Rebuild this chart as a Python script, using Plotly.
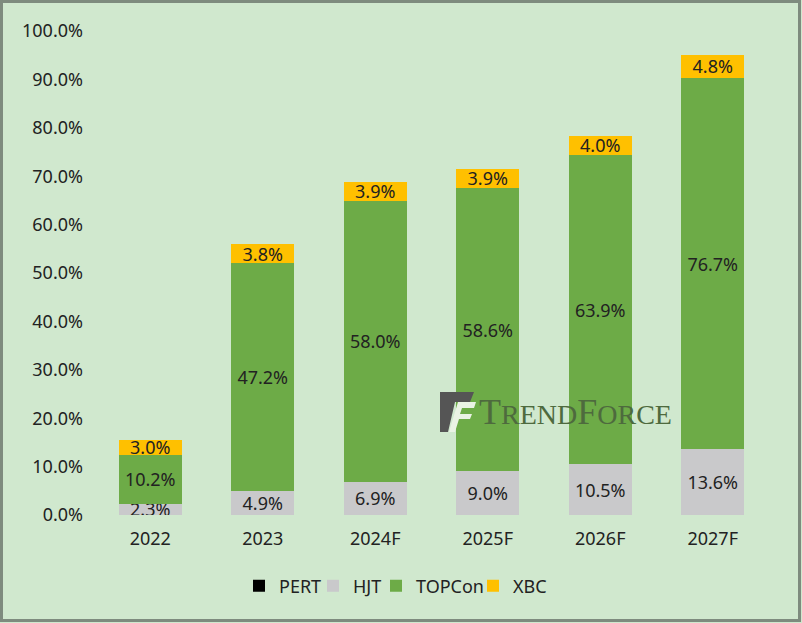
import plotly.graph_objects as go

years = ["2022", "2023", "2024F", "2025F", "2026F", "2027F"]
pert = [0.0, 0.0, 0.0, 0.0, 0.0, 0.0]
hjt = [2.3, 4.9, 6.9, 9.0, 10.5, 13.6]
topcon = [10.2, 47.2, 58.0, 58.6, 63.9, 76.7]
xbc = [3.0, 3.8, 3.9, 3.9, 4.0, 4.8]
y_ticks = [0, 10, 20, 30, 40, 50, 60, 70, 80, 90, 100]

W, H = 802, 623
L, R, T, B = 94, 33, 31, 108
PW, PH = W - L - R, H - T - B

FONT = "Noto Sans"
TXT = "#222222"
FS = 18


def px(x):
    return (x - L) / PW


def py(y):
    return (H - B - y) / PH


fig = go.Figure()

# legend left edges (pixels) for each series
legend_left = [239, 313, 376, 473]
series = [
    ("PERT", pert, "#000000", False),
    ("HJT", hjt, "#C9C9CB", True),
    ("TOPCon", topcon, "#6DAB47", True),
    ("XBC", xbc, "#FFC000", True),
]

legends = {}
for i, (name, vals, color, show_text) in enumerate(series):
    lg = "legend" if i == 0 else f"legend{i + 1}"
    fig.add_trace(go.Bar(
        name=name, x=years, y=vals, marker=dict(color=color, line=dict(width=0)),
        text=[f"{v:.1f}%" for v in vals] if show_text else None,
        textposition="inside" if show_text else "none",
        insidetextanchor="middle",
        textfont=dict(family=FONT, size=FS, color=TXT),
        hoverinfo="skip", legend=lg,
    ))
    legends[lg] = dict(orientation="h", x=px(legend_left[i]), xanchor="left",
                       y=py(586), yanchor="middle",
                       font=dict(family=FONT, size=FS, color=TXT),
                       bgcolor="rgba(0,0,0,0)", borderwidth=0, itemwidth=30)

shapes = [
    dict(type="rect", xref="paper", yref="paper",
         x0=px(1.5), x1=px(799.5), y0=py(1.5), y1=py(620.5),
         line=dict(color="#7E8B7E", width=3), fillcolor="rgba(0,0,0,0)", layer="above"),
    # watermark logo
    dict(type="path", xref="paper", yref="paper",
         path=f"M {px(440)},{py(392)} L {px(474)},{py(392)} L {px(470)},{py(402)} L {px(455)},{py(402)} L {px(448)},{py(432)} L {px(440)},{py(432)} Z",
         fillcolor="#555555", line=dict(width=0), layer="above"),
    dict(type="path", xref="paper", yref="paper",
         path=f"M {px(458)},{py(402)} L {px(476)},{py(402)} L {px(474)},{py(408)} L {px(462)},{py(408)} L {px(460)},{py(414)} L {px(472)},{py(414)} L {px(470)},{py(419)} L {px(459)},{py(419)} L {px(455)},{py(432)} L {px(449)},{py(432)} Z",
         fillcolor="#EAF3E4", line=dict(width=0), layer="above"),
]

fig.update_layout(
    width=W, height=H,
    margin=dict(l=L, r=R, t=T, b=B, pad=0),
    paper_bgcolor="#D0E8CE", plot_bgcolor="#D0E8CE",
    barmode="stack", bargap=0.44,
    font=dict(family=FONT, size=FS, color=TXT),
    uniformtext=dict(minsize=FS, mode="show"),
    xaxis=dict(showgrid=False, showline=False, zeroline=False, ticks="",
               tickfont=dict(family=FONT, size=FS, color=TXT), ticklabelstandoff=11),
    yaxis=dict(range=[0, 100], tickvals=y_ticks,
               ticktext=[f"{v:.1f}%" for v in y_ticks],
               showgrid=False, showline=False, zeroline=False, ticks="",
               tickfont=dict(family=FONT, size=FS, color=TXT), ticklabelstandoff=10),
    showlegend=True,
    shapes=shapes,
    annotations=[dict(
        xref="paper", yref="paper", x=px(477), y=py(412), xanchor="left", yanchor="middle",
        text="T<span style='font-size:28px'>REND</span>F<span style='font-size:28px'>ORCE</span>",
        showarrow=False, font=dict(family="Liberation Serif", size=36, color="#4E6A3E"),
    )],
    **legends,
)

fig.write_html("out.html")
